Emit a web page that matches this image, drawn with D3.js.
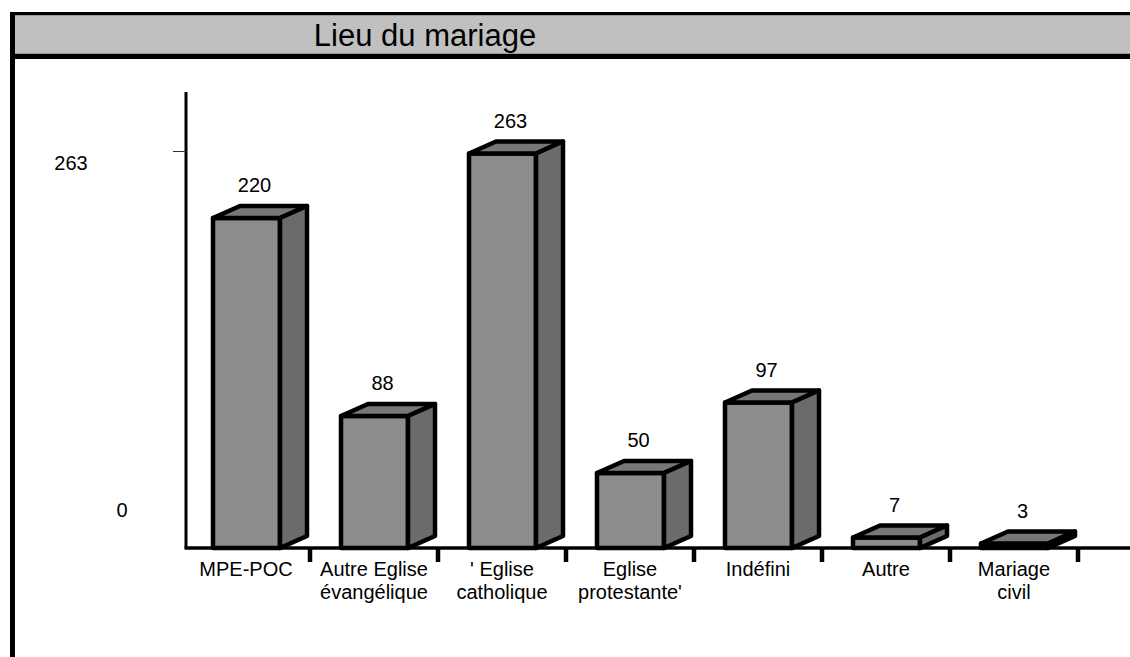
<!DOCTYPE html>
<html>
<head>
<meta charset="utf-8">
<script src="https://cdn.jsdelivr.net/npm/d3@7"></script>
<style>
  body { margin: 0; background: #fff; }
  svg { display: block; font-family: Arial, "Liberation Sans", sans-serif; }
</style>
</head>
<body>
<svg id="chart" width="1130" height="657"></svg>
<script>
// data
var categories = ["MPE-POC", "Autre Eglise|évangélique", "' Eglise|catholique", "Eglise|protestante'", "Indéfini", "Autre", "Mariage|civil"];
var values = [220, 88, 263, 50, 97, 7, 3];
var yTickValues = [0, 263];
var title = "Lieu du mariage";

(function () {
  var W = 1130, H = 657;
  var svg = d3.select("#chart");

  var x0 = 182, bandW = 128, baseY = 548, axisX = 186;
  var depthX = 27, depthY = 12, barOff = 31, barW = 67;

  var x = d3.scaleBand()
    .domain(categories)
    .range([x0, x0 + bandW * categories.length])
    .padding(0);

  var y = d3.scaleLinear()
    .domain([0, 263])
    .range([baseY, baseY - 394.5]);

  // frame + title band
  svg.append("rect").attr("x", 10).attr("y", 12).attr("width", W).attr("height", 47).attr("fill", "#000");
  svg.append("rect").attr("x", 15).attr("y", 15).attr("width", W).attr("height", 39).attr("fill", "#999");
  svg.append("rect").attr("x", 15).attr("y", 16).attr("width", W).attr("height", 37).attr("fill", "#c0c0c0");
  svg.append("rect").attr("x", 10).attr("y", 12).attr("width", 5).attr("height", H).attr("fill", "#000");

  svg.append("text")
    .attr("x", 425)
    .attr("y", 46)
    .attr("text-anchor", "middle")
    .attr("font-size", 31)
    .attr("fill", "#000")
    .text(title);

  // y axis
  svg.append("line")
    .attr("x1", axisX).attr("x2", axisX)
    .attr("y1", 92).attr("y2", baseY)
    .attr("stroke", "#000").attr("stroke-width", 3);

  svg.append("line")
    .attr("x1", 173).attr("x2", axisX)
    .attr("y1", Math.round(y(263)) - 2.5).attr("y2", Math.round(y(263)) - 2.5)
    .attr("stroke", "#333").attr("stroke-width", 1);

  var yLab = { 263: { x: 71, dy: 16 }, 0: { x: 122, dy: -31 } };
  svg.selectAll("text.ylab")
    .data(yTickValues)
    .enter()
    .append("text")
    .attr("class", "ylab")
    .attr("x", d => yLab[d].x)
    .attr("y", d => y(d) + yLab[d].dy)
    .attr("text-anchor", "middle")
    .attr("font-size", 20)
    .text(d => d);

  // x axis
  svg.append("line")
    .attr("x1", axisX - 1.5).attr("x2", W)
    .attr("y1", baseY).attr("y2", baseY)
    .attr("stroke", "#000").attr("stroke-width", 3.5);

  svg.selectAll("line.xtick")
    .data(categories)
    .enter()
    .append("line")
    .attr("class", "xtick")
    .attr("x1", d => x(d) + bandW)
    .attr("x2", d => x(d) + bandW)
    .attr("y1", baseY)
    .attr("y2", baseY + 14)
    .attr("stroke", "#000")
    .attr("stroke-width", 4.5);

  // bars
  var bars = svg.selectAll("g.bar")
    .data(categories.map((c, i) => ({ key: c, value: values[i] })))
    .enter()
    .append("g")
    .attr("class", "bar");

  function pts(arr) { return arr.map(p => p.join(",")).join(" "); }

  bars.each(function (d) {
    var g = d3.select(this);
    var l = x(d.key) + barOff, r = l + barW, t = y(d.value), b = baseY;
    var style = function (sel, fill) {
      sel.attr("fill", fill).attr("stroke", "#000").attr("stroke-width", 4.5).attr("stroke-linejoin", "round");
    };
    g.append("polygon")
      .attr("points", pts([[l, t], [r, t], [r, b], [l, b]]))
      .call(style, "#8c8c8c");
    g.append("polygon")
      .attr("points", pts([[l, t], [l + depthX, t - depthY], [r + depthX, t - depthY], [r, t]]))
      .call(style, "#777777");
    g.append("polygon")
      .attr("points", pts([[r, t], [r + depthX, t - depthY], [r + depthX, b - depthY], [r, b]]))
      .call(style, "#6b6b6b");
  });

  // value labels
  bars.append("text")
    .attr("x", d => x(d.key) + barOff + barW / 2 + 8)
    .attr("y", d => y(d.value) - depthY - 14)
    .attr("text-anchor", "middle")
    .attr("font-size", 20)
    .text(d => d.value);

  // category labels
  svg.selectAll("text.xlab")
    .data(categories)
    .enter()
    .append("text")
    .attr("class", "xlab")
    .attr("x", d => x(d) + bandW / 2)
    .attr("y", baseY + 28)
    .attr("text-anchor", "middle")
    .attr("font-size", 20)
    .each(function (d) {
      var lines = d.split("|");
      d3.select(this).selectAll("tspan")
        .data(lines)
        .enter()
        .append("tspan")
        .attr("x", x(d) + bandW / 2)
        .attr("dy", (s, i) => i === 0 ? 0 : 23)
        .text(s => s);
    });
})();
</script>
</body>
</html>
